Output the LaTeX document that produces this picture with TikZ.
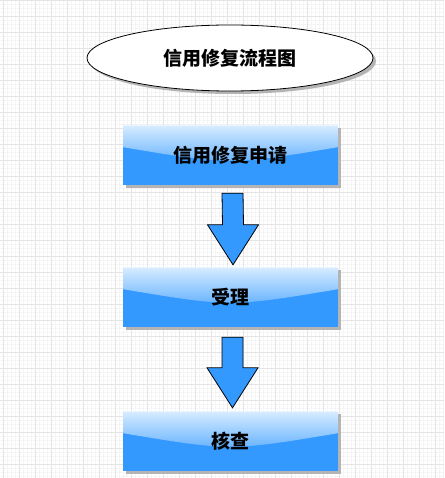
\documentclass[tikz,border=0pt]{standalone}
\usepackage{fontspec}
\newfontfamily\cjk{Noto Sans CJK SC}
\usetikzlibrary{calc,shapes.geometric,shadows}
\definecolor{boxblue}{HTML}{3399FF}
\definecolor{boxtop}{HTML}{D8ECFF}
\definecolor{boxmid}{HTML}{5EAEFF}
\definecolor{gridmajor}{HTML}{E4E4E4}
\definecolor{gridminor}{HTML}{F5F5F5}
\definecolor{shadowgray}{HTML}{B4B4B4}
\tikzset{
  cjkfont/.style={font=\cjk\bfseries\fontsize{19}{19}\selectfont, text=black},
  flatshadow/.style={general shadow={shadow xshift=3pt, shadow yshift=-3pt, fill=shadowgray}},
  titleshape/.style={ellipse, draw=black, line width=0.8pt, fill=white, minimum width=286pt, minimum height=66pt, inner sep=0pt, cjkfont, flatshadow},
  bluebox/.style={rectangle, minimum width=215pt, minimum height=60pt, inner sep=0pt, cjkfont, flatshadow, fill=boxblue,
    path picture={
      \coordinate (nw) at (path picture bounding box.north west);
      \coordinate (ne) at (path picture bounding box.north east);
      \coordinate (sw) at (path picture bounding box.south west);
      \coordinate (se) at (path picture bounding box.south east);
      \shade[top color=boxtop, bottom color=boxmid]
        (nw) -- (ne) -- ($(ne)!0.37!(se)$)
        .. controls ($($(nw)!0.5!(ne)$)!0.67!($(sw)!0.5!(se)$)$) .. ($(nw)!0.37!(sw)$) -- cycle;
      \draw[white, opacity=0.5, line width=0.8pt] (nw) -- (ne);
    }},
  blockarrow/.style={fill=boxblue, draw=black, line width=0.8pt, line join=miter}
}
\begin{document}
\begin{tikzpicture}[x=1pt,y=-1pt]
\useasboundingbox (0,0) rectangle (444,478);
\fill[white] (0,0) rectangle (444,478);
\begin{scope}
\clip (0,0) rectangle (444,478);
\foreach \i in {0,...,120} {
  \draw[gridminor, line width=0.5pt] ({-1+4*\i},0) -- ({-1+4*\i},478);
  \draw[gridminor, line width=0.5pt] (0,{0.5+4*\i}) -- (444,{0.5+4*\i});
}
\foreach \i in {0,...,30} {
  \draw[gridmajor, line width=0.8pt] ({3+16*\i},0) -- ({3+16*\i},478);
  \draw[gridmajor, line width=0.8pt] (0,{0.5+16*\i}) -- (444,{0.5+16*\i});
}
\end{scope}

\node[titleshape] (title) at (230,58) {信用修复流程图};

\node[bluebox] (b1) at (230.5,155) {信用修复申请};
\node[bluebox] (b2) at (230.5,297) {受理};
\node[bluebox] (b3) at (230.5,441) {核查};

% arrow 1
\coordinate (a1top) at ($(b1.south)+(2,8)$);
\coordinate (a1tip) at ($(b2.north)+(2.5,-2)$);
\draw[blockarrow] ($(a1top)+(-10.5,0)$) -- ($(a1top)+(10.5,0)$) -- ($(a1tip)+(10.5,-40)$) -- ($(a1tip)+(25.5,-40)$) -- (a1tip) -- ($(a1tip)+(-25.5,-40)$) -- ($(a1tip)+(-10.5,-40)$) -- cycle;

% arrow 2
\coordinate (a2top) at ($(b2.south)+(2,10)$);
\coordinate (a2tip) at ($(b3.north)+(2,-3)$);
\draw[blockarrow] ($(a2top)+(-10.5,0)$) -- ($(a2top)+(10.5,0)$) -- ($(a2tip)+(10.5,-40)$) -- ($(a2tip)+(25.5,-40)$) -- (a2tip) -- ($(a2tip)+(-25.5,-40)$) -- ($(a2tip)+(-10.5,-40)$) -- cycle;
\end{tikzpicture}
\end{document}
